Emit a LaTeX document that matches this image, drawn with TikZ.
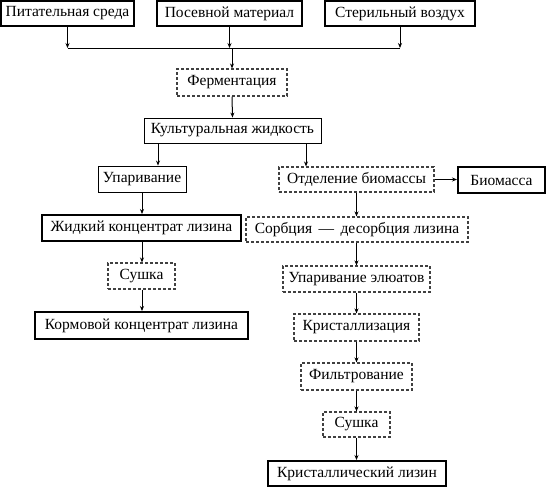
\documentclass[tikz,border=0pt]{standalone}
\usepackage{fontspec}
\setmainfont{Liberation Serif}
\usetikzlibrary{arrows.meta}
\tikzset{
  every node/.style={inner sep=0pt, anchor=center, font=\fontsize{15.5}{18}\selectfont},
  thinbox/.style={draw, line width=0.9pt},
  thickbox/.style={draw, line width=2pt},
  dashbox/.style={draw=black!75, line width=1.1pt, dash pattern=on 3pt off 2pt},
  arr/.style={line width=1pt, -{Stealth[length=5pt,width=4pt]}},
  ln/.style={line width=1pt},
}
\newcommand{\bx}[7]{% style, name, x1, y1, x2, y2, text
  \node[#1, minimum width={#5-#3}, minimum height={#6-#4}] (#2) at ({(#3+#5)/2},{(#4+#6)/2}) {#7};}
\begin{document}
\begin{tikzpicture}[x=1pt, y=-1pt]
\useasboundingbox (0,0) rectangle (547,488);
\bx{thickbox}{p1}{1}{1}{134}{26}{Питательная среда}
\bx{thickbox}{p2}{157}{1}{302}{26}{Посевной материал}
\bx{thickbox}{p3}{325}{1}{475}{26}{Стерильный воздух}
\bx{dashbox}{ferm}{177}{69}{287}{96}{Ферментация}
\bx{thinbox}{kult}{144}{118}{321}{143}{Культуральная жидкость}
\bx{thinbox}{upar}{98}{166}{186}{192}{Упаривание}
\bx{dashbox}{otd}{279}{167}{434}{192}{Отделение биомассы}
\bx{thickbox}{bio}{458}{167}{545}{193}{Биомасса}
\bx{thickbox}{zhid}{42}{215}{241}{241}{Жидкий концентрат лизина}
\bx{dashbox}{sorb}{246}{217}{468}{242}{Сорбция \,—\, десорбция лизина}
\bx{dashbox}{sush1}{108}{263}{175}{289}{Сушка}
\bx{dashbox}{uparel}{283}{266}{430}{292}{Упаривание элюатов}
\bx{thickbox}{korm}{35}{312}{248}{339}{Кормовой концентрат лизина}
\bx{dashbox}{krist}{294}{314}{419}{341}{Кристаллизация}
\bx{dashbox}{filt}{301}{363}{412}{390}{Фильтрование}
\bx{dashbox}{sush2}{323}{412}{390}{437}{Сушка}
\bx{thickbox}{krlz}{268}{461}{446}{486}{Кристаллический лизин}
% bus
\coordinate (busL) at (67.5,48);
\coordinate (busR) at (400,48);
\coordinate (xL) at (158,0);
\coordinate (xR) at (306,0);
\draw[arr] (p1.south) -- (p1.south |- busL);
\draw[arr] (p2.south) -- (p2.south |- busL);
\draw[arr] (p3.south) -- (p3.south |- busL);
\draw[ln] (busL) -- (busR);
\draw[arr] (ferm.north |- busL) -- (ferm.north);
\draw[arr] (ferm.south) -- (kult.north);
\draw[arr] (kult.south -| xL) -- (upar.north -| xL);
\draw[arr] (kult.south -| xR) -- (otd.north -| xR);
\draw[arr] (upar.south) -- (zhid.north -| upar.south);
\draw[arr] (zhid.south -| upar.south) -- (sush1.north -| upar.south);
\draw[arr] (sush1.south -| upar.south) -- (korm.north -| upar.south);
\draw[arr] (otd.east) -- (bio.west |- otd.east);
\draw[arr] (otd.south) -- (sorb.north -| otd.south);
\draw[arr] (sorb.south -| otd.south) -- (uparel.north -| otd.south);
\draw[arr] (uparel.south -| otd.south) -- (krist.north -| otd.south);
\draw[arr] (krist.south -| otd.south) -- (filt.north -| otd.south);
\draw[arr] (filt.south -| otd.south) -- (sush2.north -| otd.south);
\draw[arr] (sush2.south -| otd.south) -- (krlz.north -| otd.south);
\end{tikzpicture}
\end{document}
